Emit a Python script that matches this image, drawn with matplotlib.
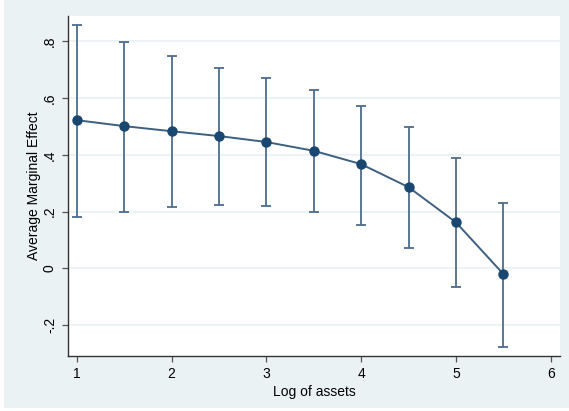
import matplotlib.pyplot as plt
from matplotlib.patches import Rectangle

plt.rcParams['font.family'] = ['Liberation Sans', 'DejaVu Sans']

log_assets = [1, 1.5, 2, 2.5, 3, 3.5, 4, 4.5, 5, 5.5]
ame = [0.522, 0.501, 0.483, 0.466, 0.445, 0.414, 0.367, 0.286, 0.162, -0.020]
ci_upper = [0.857, 0.797, 0.748, 0.705, 0.670, 0.627, 0.573, 0.497, 0.388, 0.231]
ci_lower = [0.182, 0.199, 0.215, 0.222, 0.220, 0.198, 0.154, 0.071, -0.065, -0.276]

xticks = [1, 2, 3, 4, 5, 6]
yticks = [-0.2, 0, 0.2, 0.4, 0.6, 0.8]
ytick_labels = ['-.2', '0', '.2', '.4', '.6', '.8']

bg = '#eaf2f3'
navy = '#1a476f'

fig = plt.figure(figsize=(5.69, 4.11), dpi=100, facecolor='white')
fig.patches.append(Rectangle((4 / 569, 3 / 411), 1, 1, transform=fig.transFigure,
                             facecolor=bg, edgecolor='none', zorder=-1))
ax = fig.add_axes([68 / 569, (411 - 355.7) / 411, (560 - 68) / 569, (355.7 - 16) / 411])
ax.set_facecolor('white')

ax.set_xlim(0.908, 6.098)
ax.set_ylim(-0.308, 0.889)

for y in yticks:
    ax.axhline(y, color=bg, lw=1.3, zorder=0)

lower_err = [m - lo for m, lo in zip(ame, ci_lower)]
upper_err = [hi - m for m, hi in zip(ame, ci_upper)]
ax.errorbar(log_assets, ame, yerr=[lower_err, upper_err], fmt='none',
            ecolor='#4d6c8b', elinewidth=1.3, capsize=3.5, capthick=1.3, zorder=2)
ax.plot(log_assets, ame, color='#3d5f80', lw=1.4, zorder=3)
ax.plot(log_assets, ame, 'o', color=navy, markersize=6.5, zorder=4)

ax.set_xticks(xticks)
ax.set_xticklabels([str(t) for t in xticks])
ax.set_yticks(yticks)
ax.set_yticklabels(ytick_labels, rotation=90, va='center')

for s in ['top', 'right']:
    ax.spines[s].set_visible(False)
for s in ['left', 'bottom']:
    ax.spines[s].set_color('#333333')
    ax.spines[s].set_linewidth(1.0)
ax.tick_params(direction='out', length=4, width=0.9, color='#555555',
               labelsize=10, labelcolor='black', pad=4)

ax.set_xlabel('Log of assets', fontsize=10, labelpad=3)
ax.set_ylabel('Average Marginal Effect', fontsize=10, labelpad=1)

fig.savefig('out.png', dpi=100, facecolor=fig.get_facecolor())
